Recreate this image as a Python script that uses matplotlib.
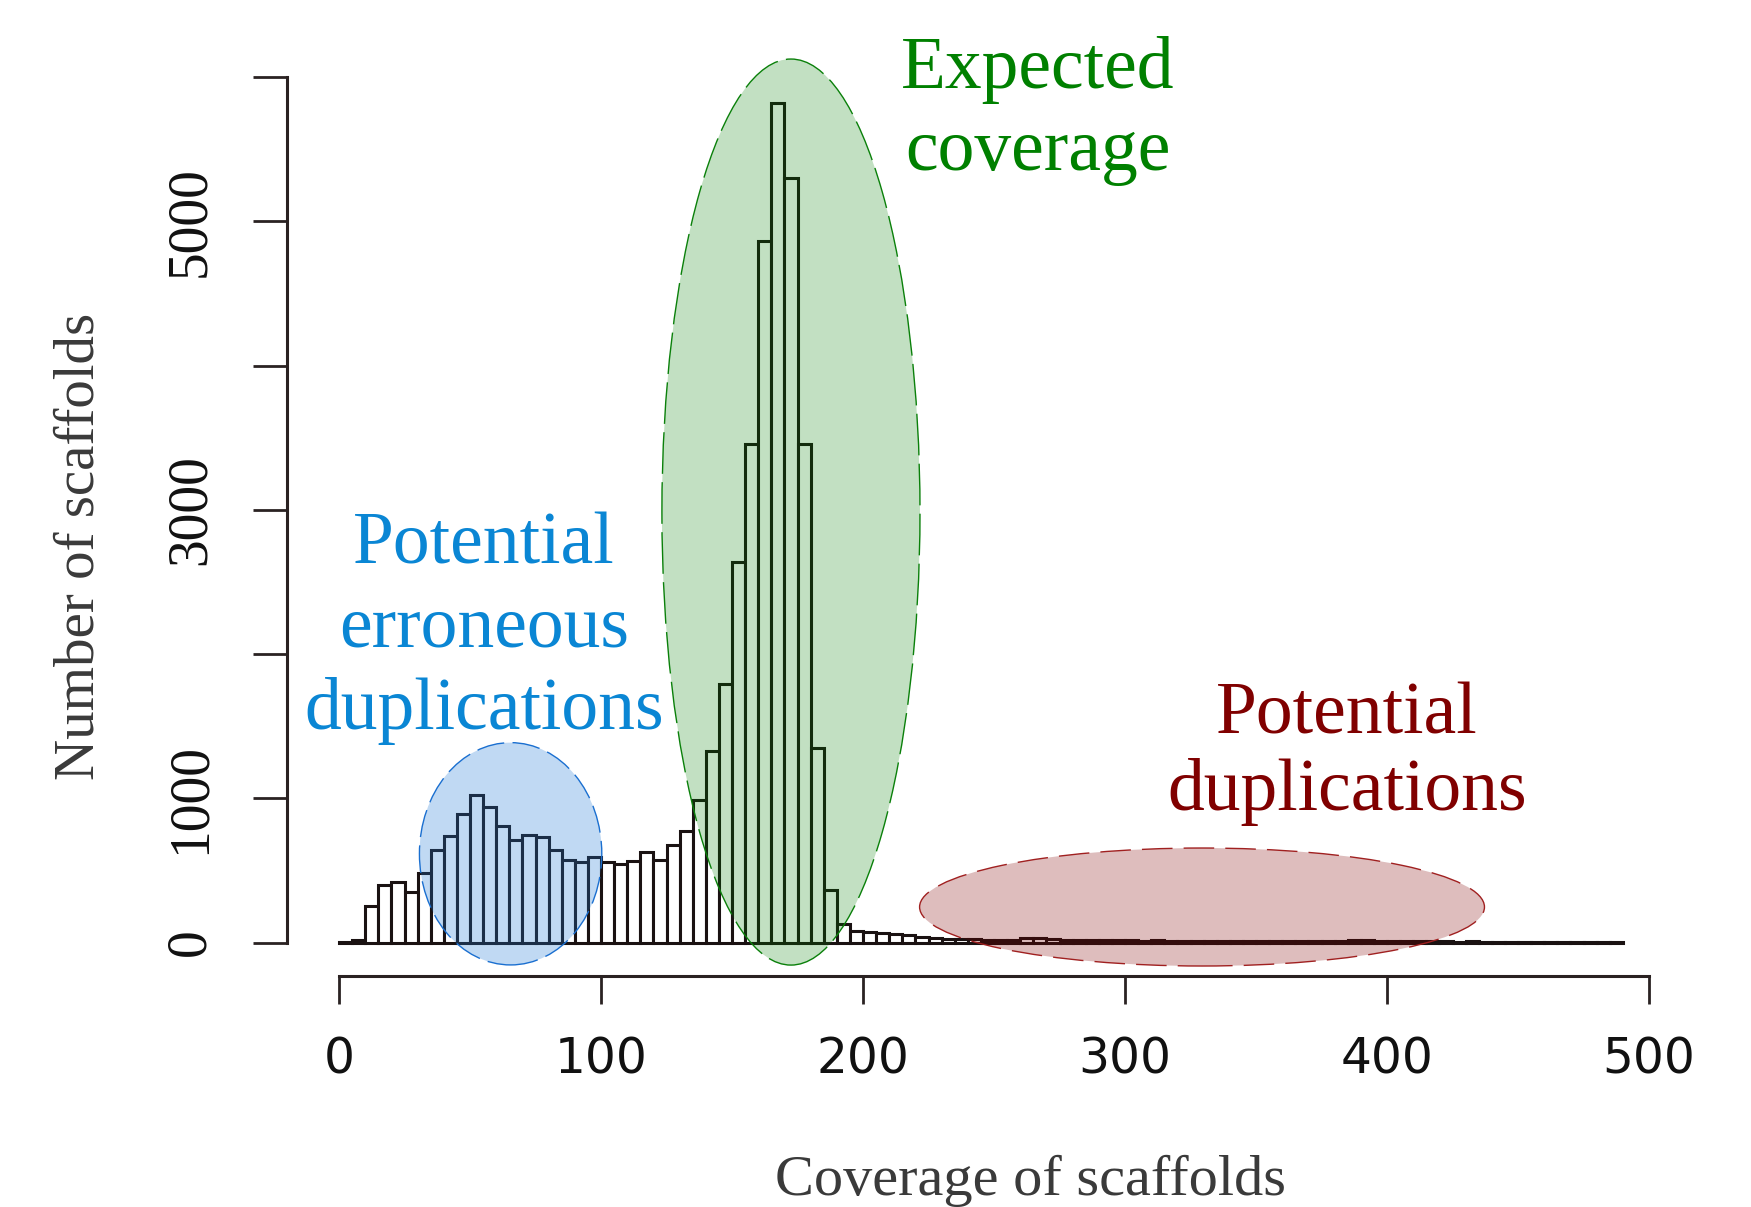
import numpy as np
import matplotlib.pyplot as plt
from matplotlib.patches import Ellipse

# Histogram counts, bins of width 5 starting at 0
bin_width = 5
counts = [3, 18, 250, 396, 417, 352, 479, 639, 741, 891,
          1025, 942, 806, 710, 748, 734, 639, 570, 556, 595,
          556, 544, 565, 630, 570, 676, 773, 990, 1330, 1790,
          2635, 3456, 4865, 5820, 5300, 3456, 1345, 365, 130, 80,
          72, 66, 56, 49, 40, 33, 27, 23, 21, 19,
          18, 20, 34, 28, 22,
          18, 16, 17, 15, 15, 14, 13, 14, 12, 12,
          11, 12, 10, 11, 10, 9, 10, 9, 9, 8,
          8, 9, 14, 16, 12, 9, 8, 8, 7, 7,
          6, 7, 6, 6, 5, 6, 5, 5, 4, 5, 4, 4, 4]
bin_left = np.arange(len(counts)) * bin_width

x_ticks = [0, 100, 200, 300, 400, 500]
y_ticks = [0, 1000, 2000, 3000, 4000, 5000, 6000]
y_tick_labels = ['0', '1000', '', '3000', '', '5000', '']

W, H = 1751, 1207
fig = plt.figure(figsize=(W / 100, H / 100), dpi=100)
ax = fig.add_axes([0, 0, 1, 1])

# pixel mapping of the original plot region
x0_px, px_per_x = 339, 2.62
y0_px, px_per_y = 942.5, 0.14425
ax.set_xlim(-x0_px / px_per_x, (W - x0_px) / px_per_x)
ax.set_ylim(-(H - y0_px) / px_per_y, y0_px / px_per_y)

ax.bar(bin_left, counts, width=bin_width, align='edge', color='white',
       edgecolor='#1a1212', linewidth=2.2, zorder=2)

# highlighted regions
regions = [
    ((65.5, 615), 69.6, 1541, '#1f77d4', 0.28, '#1a6fd0', (0, (20, 6))),
    ((172.5, 2984), 98.5, 6281, '#008000', 0.24, '#0a800a', (0, (30, 6))),
    ((329.4, 246), 215.6, 818, '#800000', 0.26, '#a02020', (0, (22, 8))),
]
for center, w, h, fc, a, ec, ls in regions:
    ax.add_patch(Ellipse(center, w, h, facecolor=fc, alpha=a, edgecolor='none', zorder=3))
    ax.add_patch(Ellipse(center, w, h, facecolor='none', edgecolor=ec,
                         linewidth=1.0, linestyle=ls, zorder=3))

# R-style detached axes
for side in ['top', 'right']:
    ax.spines[side].set_visible(False)
ax.spines['left'].set_position(('data', (286.7 - x0_px) / px_per_x))
ax.spines['left'].set_bounds(0, 6000)
ax.spines['bottom'].set_position(('data', -(975.7 - y0_px) / px_per_y))
ax.spines['bottom'].set_bounds(0, 500)
for side in ['left', 'bottom']:
    ax.spines[side].set_linewidth(2.2)
    ax.spines[side].set_color('#2a2222')
ax.set_facecolor('white')

ax.set_xticks(x_ticks)
ax.set_xticklabels([str(t) for t in x_ticks], fontsize=35, family='DejaVu Sans',
                   color='#111111')
ax.set_yticks(y_ticks)
ax.set_yticklabels(y_tick_labels, fontsize=40, family='Liberation Serif',
                   color='#111111', rotation=90, va='center')
ax.tick_params(axis='x', direction='out', length=20, width=2, color='#2a2222', pad=23)
ax.tick_params(axis='y', direction='out', length=24.5, width=2, color='#2a2222', pad=26)

ax.set_xlabel('Coverage of scaffolds', fontsize=42, family='Liberation Serif',
              color='#3a3a3a', va='baseline')
ax.xaxis.set_label_coords(1030 / W, 1 - 1195 / H)
ax.set_ylabel('Number of scaffolds', fontsize=41, family='Liberation Serif',
              color='#3a3a3a', va='center')
ax.yaxis.set_label_coords(79 / W, 1 - 546 / H)


def put_lines(lines, cx, baselines, color):
    for s, by in zip(lines, baselines):
        fig.text(cx / W, 1 - by / H, s, ha='center', va='baseline', fontsize=53,
                 family='Liberation Serif', color=color, zorder=5)


put_lines(['Expected', 'coverage'], 1038, [88, 170], '#008000')
put_lines(['Potential', 'erroneous', 'duplications'], 484, [564, 647, 729], '#0a86d4')
put_lines(['Potential', 'duplications'], 1347, [733, 810], '#800000')

fig.savefig('out.png', dpi=100, facecolor='white')
plt.close()
